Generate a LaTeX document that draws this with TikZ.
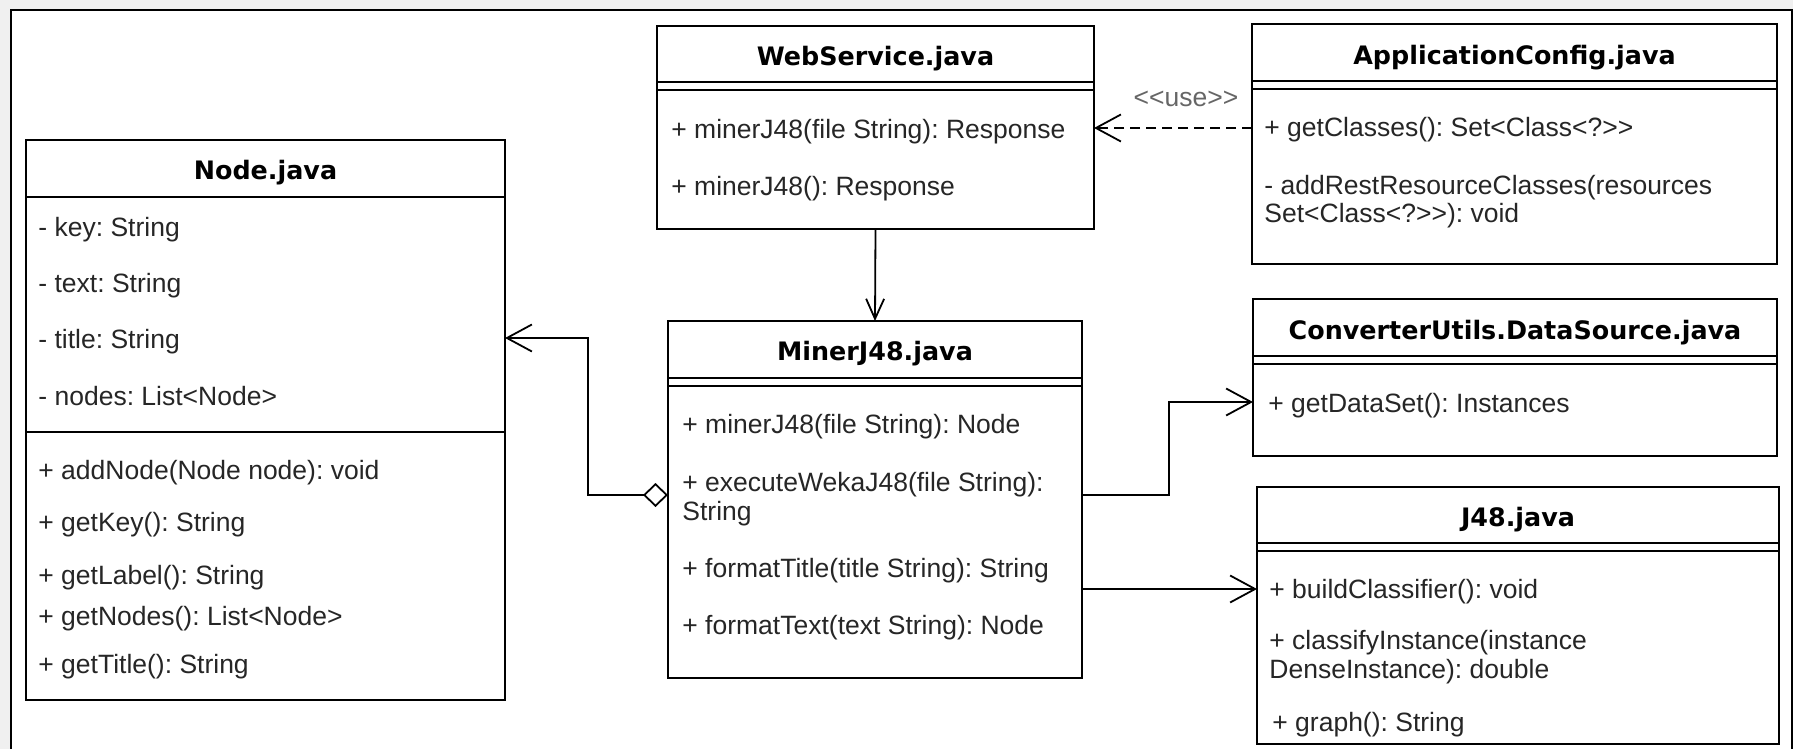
\documentclass[tikz,border=0pt]{standalone}
\usepackage{fontspec}
\setmainfont{Liberation Sans}
\newfontfamily\ttlfamily{DejaVu Sans}
\usetikzlibrary{arrows.meta}
\frenchspacing
\newcommand\memfont{\fontsize{13.25pt}{16pt}\selectfont}
\newcommand\ttlfont{\ttlfamily\bfseries\fontsize{12.7pt}{15pt}\selectfont}
\definecolor{bggray}{HTML}{F0F0F0}
\tikzset{
  box/.style={draw, line width=0.9pt, inner sep=0pt, outer sep=0pt},
  ttl/.style={font=\ttlfont, text height=9.26pt, text depth=0pt, inner sep=0pt, anchor=center},
  mem/.style={font=\memfont, text=black!85, text height=9.49pt, text depth=0pt, inner sep=0pt, anchor=west},
  sep/.style={line width=0.9pt},
  conn/.style={line width=0.9pt},
  assoc/.style={conn, -{Straight Barb[length=12.5pt,width=13.5pt]}},
  smallassoc/.style={conn, -{Straight Barb[length=10pt,width=9pt]}},
  agg/.style={conn, {Diamond[open,length=12.5pt,width=12pt]}-{Straight Barb[length=12.5pt,width=13.5pt]}},
  dep/.style={conn, dash pattern=on 5pt off 3pt, -{Straight Barb[length=12.5pt,width=13.5pt]}},
}
\begin{document}
\begin{tikzpicture}[x=0.5pt,y=-0.5pt]
\frenchspacing
\useasboundingbox (0,0) rectangle (1793,749);
% background and outer frame
\fill[bggray] (0,0) rectangle (1793,749);
\fill[white] (11,10) rectangle (1792,760);
\draw[line width=1pt] (11,760) -- (11,10) -- (1792,10) -- (1792,760);

% ---------------- Node.java
\node[box, minimum width=239.5pt, minimum height=280pt] (nodecls) at (265.5,420) {};
\node[ttl] (nodettl) at (265.5,170) {Node.java};
\draw[sep] (nodecls.west |- 0,197) -- (nodecls.east |- 0,197);
\draw[sep] (nodecls.west |- 0,432) -- (nodecls.east |- 0,432);
\node[mem] (n1) at (38,227) {- key: String};
\node[mem] (n2) at (38,283) {- text: String};
\node[mem] (n3) at (38,339) {- title: String};
\node[mem] (n4) at (38,396) {- nodes: List<Node>};
\node[mem] (n5) at (38,470) {+ addNode(Node node): void};
\node[mem] (n6) at (38,522) {+ getKey(): String};
\node[mem] (n7) at (38,575) {+ getLabel(): String};
\node[mem] (n8) at (38,616) {+ getNodes(): List<Node>};
\node[mem] (n9) at (38,664) {+ getTitle(): String};

% ---------------- WebService.java
\node[box, minimum width=218.5pt, minimum height=101.5pt] (web) at (875.5,127.5) {};
\node[ttl] (webttl) at (875.5,56) {WebService.java};
\draw[sep] (web.west |- 0,82) -- (web.east |- 0,82);
\draw[sep] (web.west |- 0,90) -- (web.east |- 0,90);
\node[mem] (w1) at (671,129) {+ minerJ48(file String): Response};
\node[mem] (w2) at (671,186) {+ minerJ48(): Response};

% ---------------- ApplicationConfig.java
\node[box, minimum width=262.5pt, minimum height=120pt] (app) at (1514.5,144) {};
\node[ttl] (appttl) at (1514.5,55) {ApplicationConfig.java};
\draw[sep] (app.west |- 0,81) -- (app.east |- 0,81);
\draw[sep] (app.west |- 0,89) -- (app.east |- 0,89);
\node[mem] (a1) at (1264,127) {+ getClasses(): Set<Class<?>{}>};
\node[mem] (a2) at (1264,185) {- addRestResourceClasses(resources};
\node[mem] (a3) at (1264,213) {Set<Class<?>{}>): void};

% ---------------- MinerJ48.java
\node[box, minimum width=207pt, minimum height=178.5pt] (miner) at (875,499.5) {};
\node[ttl] (minerttl) at (875,351) {MinerJ48.java};
\draw[sep] (miner.west |- 0,378) -- (miner.east |- 0,378);
\draw[sep] (miner.west |- 0,386) -- (miner.east |- 0,386);
\node[mem] (m1) at (682,424) {+ minerJ48(file String): Node};
\node[mem] (m2) at (682,482) {+ executeWekaJ48(file String):};
\node[mem] (m3) at (682,511) {String};
\node[mem] (m4) at (682,568) {+ formatTitle(title String): String};
\node[mem] (m5) at (682,625) {+ formatText(text String): Node};

% ---------------- ConverterUtils.DataSource.java
\node[box, minimum width=262pt, minimum height=78.5pt] (conv) at (1515,377.5) {};
\node[ttl] (convttl) at (1515,330) {ConverterUtils.DataSource.java};
\draw[sep] (conv.west |- 0,356) -- (conv.east |- 0,356);
\draw[sep] (conv.west |- 0,364) -- (conv.east |- 0,364);
\node[mem] (c1) at (1268,403) {+ getDataSet(): Instances};

% ---------------- J48.java
\node[box, minimum width=261pt, minimum height=128.5pt] (jcls) at (1518,615.5) {};
\node[ttl] (jttl) at (1518,517) {J48.java};
\draw[sep] (jcls.west |- 0,543) -- (jcls.east |- 0,543);
\draw[sep] (jcls.west |- 0,551) -- (jcls.east |- 0,551);
\node[mem] (j1) at (1269,589) {+ buildClassifier(): void};
\node[mem] (j2) at (1269,640) {+ classifyInstance(instance};
\node[mem] (j3) at (1269,669) {DenseInstance): double};
\node[mem] (j4) at (1272,722) {+ graph(): String};

% ---------------- connectors
\draw[dep] (app.west |- 0,128) -- (web.east |- 0,128);
\node[font=\memfont, text=black!60, inner sep=0pt] (uselbl) at (1186,99) {<{}<use>{}>};
\draw[smallassoc] (web.south) -- (miner.north);
\draw[agg] (miner.west |- 0,495) -| (588,338) -- (nodecls.east |- 0,338);
\draw[assoc] (miner.east |- 0,495) -| (1169,402) -- (conv.west |- 0,402);
\draw[assoc] (miner.east |- 0,589) -- (jcls.west |- 0,589);
\end{tikzpicture}
\end{document}
